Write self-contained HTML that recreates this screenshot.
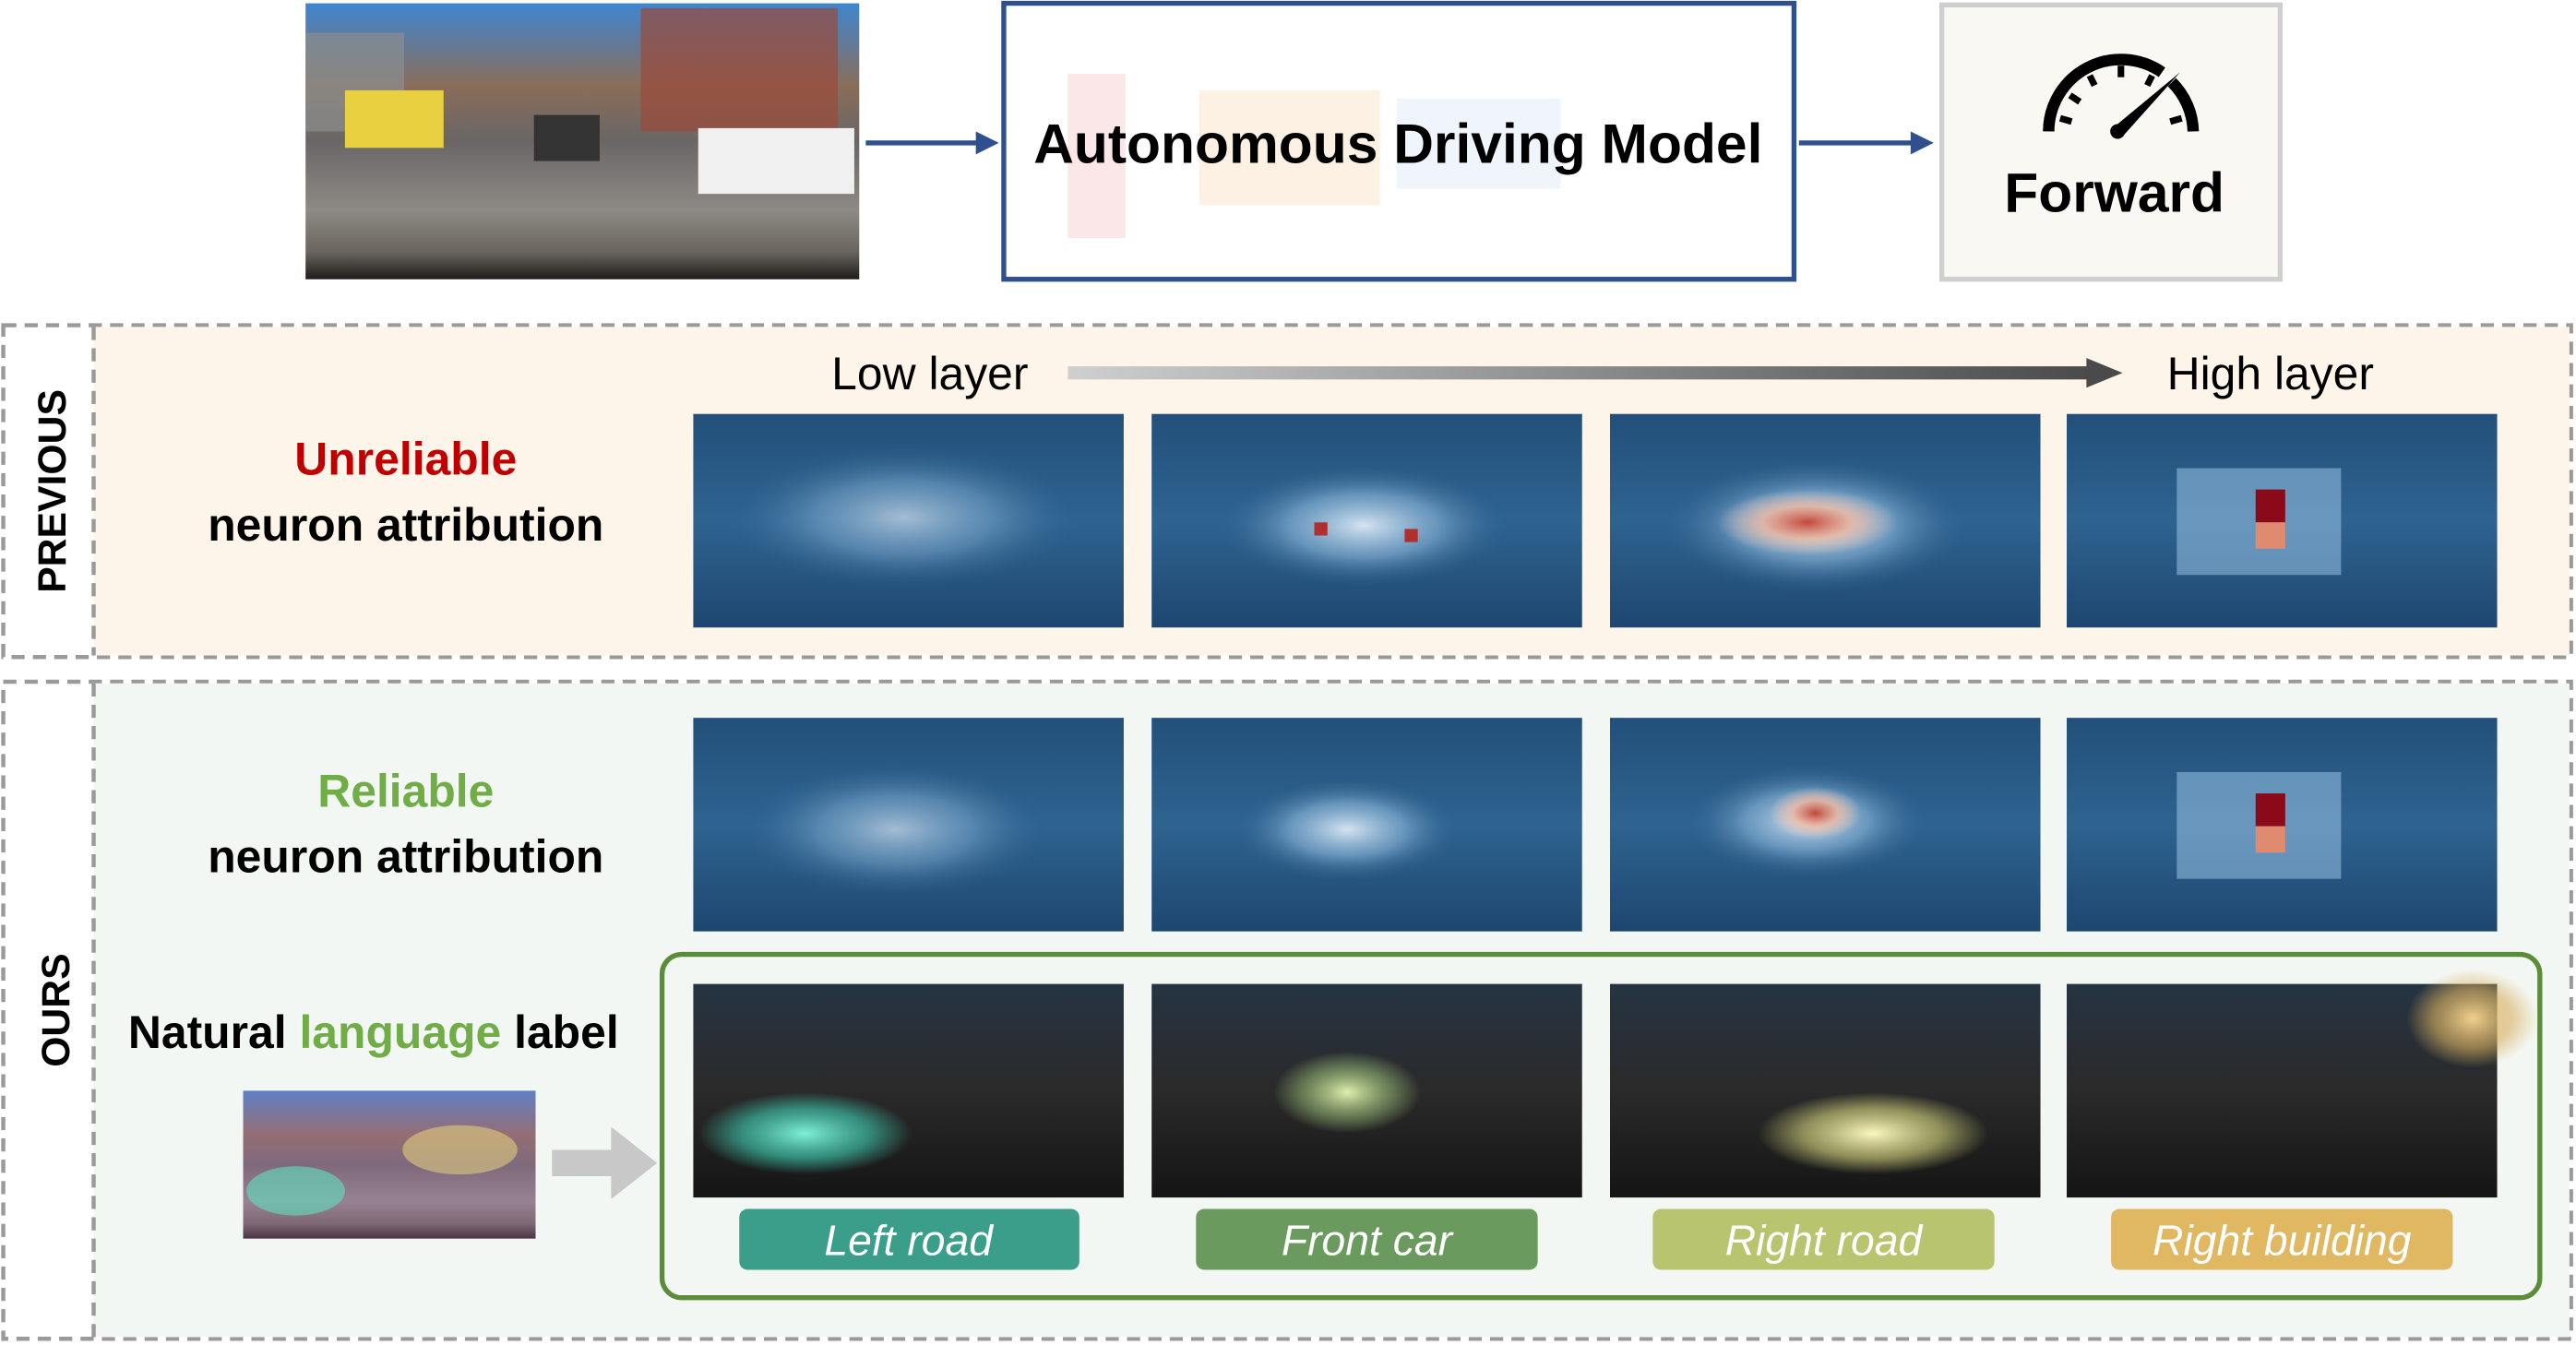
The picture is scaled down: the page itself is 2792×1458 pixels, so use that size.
<!DOCTYPE html>
<html><head><meta charset="utf-8"><style>
html,body{margin:0;padding:0;background:#fff;}
svg{display:block;font-family:"Liberation Sans",sans-serif;}
</style></head><body>
<svg width="2792" height="1458" viewBox="0 0 1568 818.8" preserveAspectRatio="none" xmlns="http://www.w3.org/2000/svg">
<defs>
<linearGradient id="street" x1="0" y1="0" x2="0" y2="1">
<stop offset="0" stop-color="#3f86d0"/><stop offset="0.3" stop-color="#8a6d5a"/><stop offset="0.5" stop-color="#6a6666"/><stop offset="0.75" stop-color="#8d8a85"/><stop offset="0.9" stop-color="#6a655e"/><stop offset="1" stop-color="#1e1c1a"/>
</linearGradient>
<linearGradient id="hm" x1="0" y1="0" x2="0" y2="1">
<stop offset="0" stop-color="#22507a"/><stop offset="0.5" stop-color="#2e6390"/><stop offset="1" stop-color="#1e4770"/>
</linearGradient>
<linearGradient id="dark" x1="0" y1="0" x2="0" y2="1">
<stop offset="0" stop-color="#263442"/><stop offset="0.5" stop-color="#2a2a2a"/><stop offset="1" stop-color="#151515"/>
</linearGradient>
<linearGradient id="gray" x1="0" y1="0" x2="1" y2="0">
<stop offset="0" stop-color="#cfcfcf"/><stop offset="1" stop-color="#4a4a4a"/>
</linearGradient>
<radialGradient id="glowW"><stop offset="0" stop-color="#e8f2fb" stop-opacity="0.9"/><stop offset="0.5" stop-color="#8fb9dc" stop-opacity="0.6"/><stop offset="1" stop-color="#2a5e8c" stop-opacity="0"/></radialGradient>
<radialGradient id="glowR"><stop offset="0" stop-color="#c0483a"/><stop offset="0.5" stop-color="#f0b8a0" stop-opacity="0.8"/><stop offset="1" stop-color="#f0d0c0" stop-opacity="0"/></radialGradient>
<radialGradient id="gTeal"><stop offset="0" stop-color="#7ff0d8"/><stop offset="0.6" stop-color="#3cb9a0" stop-opacity="0.7"/><stop offset="1" stop-color="#3cb9a0" stop-opacity="0"/></radialGradient>
<radialGradient id="gGreen"><stop offset="0" stop-color="#e0f0b0"/><stop offset="0.6" stop-color="#90b070" stop-opacity="0.6"/><stop offset="1" stop-color="#90b070" stop-opacity="0"/></radialGradient>
<radialGradient id="gYel"><stop offset="0" stop-color="#fbf8c0"/><stop offset="0.6" stop-color="#d8d880" stop-opacity="0.6"/><stop offset="1" stop-color="#d8d880" stop-opacity="0"/></radialGradient>
<radialGradient id="gOr"><stop offset="0" stop-color="#f0d090"/><stop offset="0.6" stop-color="#d8b060" stop-opacity="0.6"/><stop offset="1" stop-color="#d8b060" stop-opacity="0"/></radialGradient>
</defs>

<!-- top row -->
<rect x="186" y="2" width="337" height="168" fill="url(#street)"/>
<rect x="390" y="5" width="120" height="75" fill="#9a4a3a" opacity="0.7"/>
<rect x="186" y="20" width="60" height="60" fill="#8a8e90" opacity="0.7"/>
<rect x="210" y="55" width="60" height="35" fill="#e8d040"/>
<rect x="425" y="78" width="95" height="40" fill="#f0f0f0"/>
<rect x="325" y="70" width="40" height="28" fill="#333"/>
<line x1="527" y1="87" x2="596" y2="87" stroke="#2f4f8f" stroke-width="3"/>
<polygon points="608,87 594,80 594,94" fill="#2f4f8f"/>
<rect x="611" y="2" width="481" height="168" fill="#fff" stroke="#2f4f8f" stroke-width="3"/>
<g opacity="0.25"><rect x="650" y="45" width="35" height="100" fill="#f0a0a0"/><rect x="730" y="55" width="110" height="70" fill="#f6c890"/><rect x="850" y="60" width="100" height="55" fill="#c0d8f0"/></g>
<text x="851" y="99" font-size="34" font-weight="bold" text-anchor="middle" fill="#000">Autonomous Driving Model</text>
<line x1="1095" y1="87" x2="1165" y2="87" stroke="#2f4f8f" stroke-width="3"/>
<polygon points="1177,87 1163,80 1163,94" fill="#2f4f8f"/>
<rect x="1182" y="3" width="206" height="167" fill="#f9f8f3" stroke="#cfcfcf" stroke-width="3"/>
<path d="M1247,80 A44,44 0 0 1 1316,44" fill="none" stroke="#000" stroke-width="7"/>
<path d="M1322,50 A44,44 0 0 1 1335,80" fill="none" stroke="#000" stroke-width="7"/>
<g stroke="#000" stroke-width="4">
<line x1="1254" y1="72" x2="1261" y2="74"/><line x1="1260" y1="58" x2="1266" y2="62"/><line x1="1272" y1="46" x2="1275" y2="52"/><line x1="1291" y1="40" x2="1291" y2="47"/><line x1="1310" y1="46" x2="1307" y2="52"/><line x1="1328" y1="72" x2="1321" y2="74"/>
</g>
<polygon points="1286,78 1293,82 1327,44" fill="#000"/>
<circle cx="1289" cy="80" r="4.5" fill="#000"/>
<text x="1287" y="129" font-size="34" font-weight="bold" text-anchor="middle" fill="#000">Forward</text>

<!-- PREVIOUS -->
<rect x="2" y="198" width="1563" height="202" fill="#fff" stroke="#9a9a9a" stroke-width="2.5" stroke-dasharray="8,5"/>
<rect x="57" y="199" width="1507" height="200" fill="#fdf4ea"/>
<line x1="57" y1="199" x2="57" y2="399" stroke="#9a9a9a" stroke-width="2.5" stroke-dasharray="8,5"/>
<text transform="translate(40,299) rotate(-90)" font-size="24" font-weight="bold" text-anchor="middle">PREVIOUS</text>
<text x="247" y="289" font-size="28" font-weight="bold" fill="#c00000" text-anchor="middle">Unreliable</text>
<text x="247" y="329" font-size="28" font-weight="bold" text-anchor="middle">neuron attribution</text>
<text x="566" y="237" font-size="28" text-anchor="middle">Low layer</text>
<rect x="650" y="223" width="625" height="8" fill="url(#gray)"/>
<polygon points="1292,227 1270,218 1270,236" fill="#4a4a4a"/>
<text x="1382" y="237" font-size="28" text-anchor="middle">High layer</text>

<g>
<rect x="422" y="252" width="262" height="130" fill="url(#hm)"/>
<ellipse cx="550" cy="315" rx="110" ry="45" fill="url(#glowW)" opacity="0.7"/>
<rect x="701" y="252" width="262" height="130" fill="url(#hm)"/>
<ellipse cx="830" cy="320" rx="90" ry="38" fill="url(#glowW)"/>
<rect x="800" y="318" width="8" height="8" fill="#b03030"/><rect x="855" y="322" width="8" height="8" fill="#b03030"/>
<rect x="980" y="252" width="262" height="130" fill="url(#hm)"/>
<ellipse cx="1105" cy="320" rx="95" ry="42" fill="url(#glowW)"/>
<ellipse cx="1100" cy="318" rx="55" ry="20" fill="url(#glowR)"/>
<rect x="1258" y="252" width="262" height="130" fill="url(#hm)"/>
<rect x="1325" y="285" width="100" height="65" fill="#8fb9dc" opacity="0.6"/>
<rect x="1373" y="298" width="18" height="20" fill="#8b0a1a"/><rect x="1373" y="318" width="18" height="16" fill="#e08a70"/>
</g>

<!-- OURS -->
<rect x="2" y="415" width="1563" height="400" fill="#fff" stroke="#9a9a9a" stroke-width="2.5" stroke-dasharray="8,5"/>
<rect x="57" y="416" width="1507" height="398" fill="#f3f7f3"/>
<line x1="57" y1="416" x2="57" y2="814" stroke="#9a9a9a" stroke-width="2.5" stroke-dasharray="8,5"/>
<text transform="translate(42,615) rotate(-90)" font-size="24" font-weight="bold" text-anchor="middle">OURS</text>
<text x="247" y="491" font-size="28" font-weight="bold" fill="#70ad47" text-anchor="middle">Reliable</text>
<text x="247" y="531" font-size="28" font-weight="bold" text-anchor="middle">neuron attribution</text>

<rect x="422" y="437" width="262" height="130" fill="url(#hm)"/>
<ellipse cx="545" cy="505" rx="95" ry="42" fill="url(#glowW)" opacity="0.7"/>
<rect x="701" y="437" width="262" height="130" fill="url(#hm)"/>
<ellipse cx="820" cy="505" rx="70" ry="32" fill="url(#glowW)"/>
<rect x="980" y="437" width="262" height="130" fill="url(#hm)"/>
<ellipse cx="1100" cy="500" rx="75" ry="35" fill="url(#glowW)"/>
<ellipse cx="1105" cy="495" rx="28" ry="16" fill="url(#glowR)"/>
<rect x="1258" y="437" width="262" height="130" fill="url(#hm)"/>
<rect x="1325" y="470" width="100" height="65" fill="#8fb9dc" opacity="0.6"/>
<rect x="1373" y="483" width="18" height="20" fill="#8b0a1a"/><rect x="1373" y="503" width="18" height="16" fill="#e08a70"/>

<text x="78" y="638" font-size="28" font-weight="bold">Natural <tspan fill="#70ad47">language</tspan> label</text>
<rect x="148" y="664" width="178" height="90" fill="url(#street)"/>
<rect x="148" y="664" width="178" height="90" fill="#b070b0" opacity="0.3"/>
<ellipse cx="180" cy="725" rx="30" ry="15" fill="#60e0c0" opacity="0.6"/>
<ellipse cx="280" cy="700" rx="35" ry="15" fill="#f0e080" opacity="0.5"/>
<polygon points="336,700 372,700 372,686 400,708 372,730 372,716 336,716" fill="#c8c8c8"/>

<rect x="403" y="581" width="1143" height="209" rx="12" fill="#f3f7f3" stroke="#5b8c3a" stroke-width="3"/>
<rect x="422" y="599" width="262" height="130" fill="url(#dark)"/>
<ellipse cx="490" cy="690" rx="65" ry="25" fill="url(#gTeal)"/>
<rect x="701" y="599" width="262" height="130" fill="url(#dark)"/>
<ellipse cx="820" cy="665" rx="45" ry="25" fill="url(#gGreen)"/>
<rect x="980" y="599" width="262" height="130" fill="url(#dark)"/>
<ellipse cx="1140" cy="690" rx="70" ry="25" fill="url(#gYel)"/>
<rect x="1258" y="599" width="262" height="130" fill="url(#dark)"/>
<ellipse cx="1505" cy="620" rx="40" ry="30" fill="url(#gOr)"/>

<rect x="450" y="736" width="207" height="37" rx="5" fill="#3a9e8a"/>
<text x="553" y="764" font-size="26" font-style="italic" fill="#fff" text-anchor="middle">Left road</text>
<rect x="728" y="736" width="208" height="37" rx="5" fill="#6b9a5e"/>
<text x="832" y="764" font-size="26" font-style="italic" fill="#fff" text-anchor="middle">Front car</text>
<rect x="1006" y="736" width="208" height="37" rx="5" fill="#b9c46f"/>
<text x="1110" y="764" font-size="26" font-style="italic" fill="#fff" text-anchor="middle">Right road</text>
<rect x="1285" y="736" width="208" height="37" rx="5" fill="#e0b862"/>
<text x="1389" y="764" font-size="26" font-style="italic" fill="#fff" text-anchor="middle">Right building</text>
</svg>
</body></html>
